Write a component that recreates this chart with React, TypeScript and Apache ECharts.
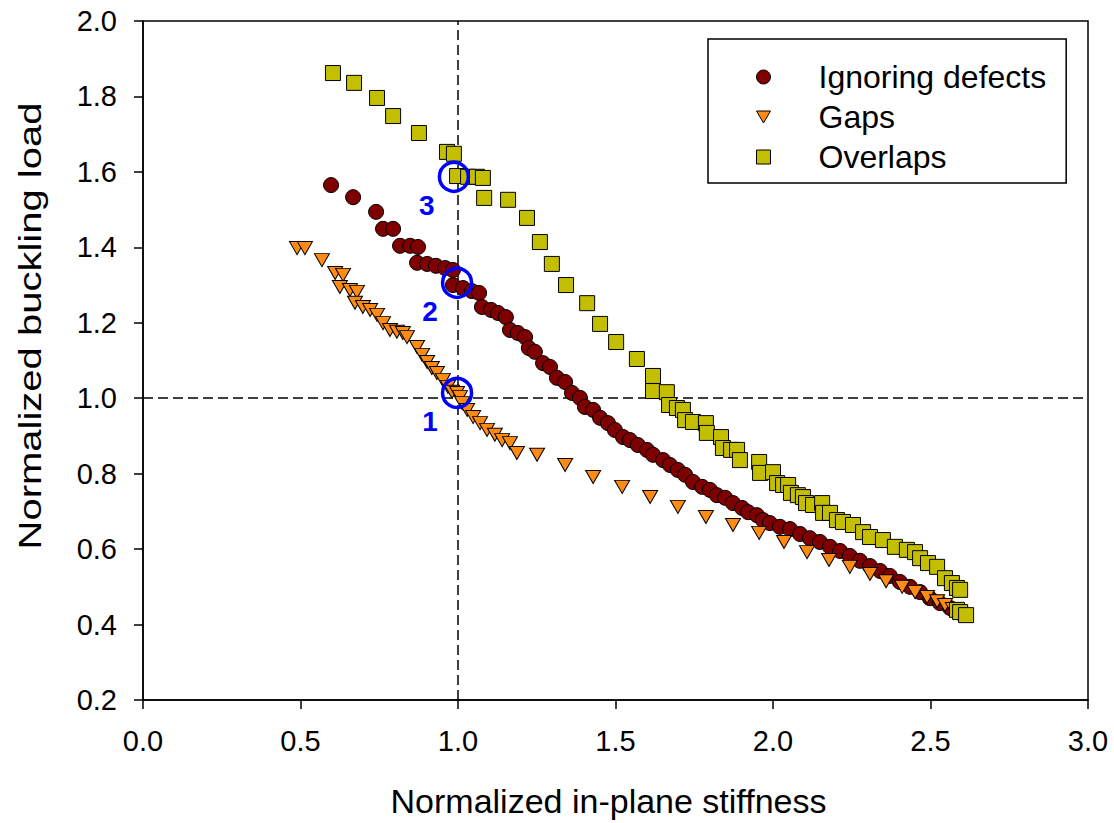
import React, { useEffect, useRef } from "react";
import * as echarts from "echarts";

const seriesNames = ["Ignoring defects", "Gaps", "Overlaps"];
const xTitle = "Normalized in-plane stiffness";
const yTitle = "Normalized buckling load";

const ignoringDefects: number[][] = [
  [0.597, 1.565], [0.667, 1.533], [0.740, 1.494], [0.762, 1.449], [0.794, 1.449],
  [0.816, 1.404], [0.848, 1.404], [0.873, 1.401], [0.870, 1.359], [0.902, 1.356],
  [0.930, 1.351], [0.959, 1.345], [0.984, 1.340], [0.984, 1.300], [1.016, 1.292],
  [1.044, 1.284], [1.067, 1.279], [1.076, 1.242], [1.105, 1.234], [1.127, 1.226],
  [1.152, 1.215], [1.165, 1.181], [1.190, 1.173], [1.213, 1.162], [1.225, 1.133],
  [1.244, 1.123], [1.270, 1.093], [1.292, 1.083], [1.314, 1.054], [1.340, 1.043],
  [1.362, 1.014], [1.387, 1.001], [1.403, 0.977], [1.429, 0.969], [1.451, 0.948],
  [1.476, 0.934], [1.498, 0.916], [1.524, 0.897], [1.546, 0.889], [1.571, 0.876],
  [1.600, 0.863], [1.619, 0.850], [1.651, 0.836], [1.673, 0.823], [1.698, 0.810],
  [1.721, 0.797], [1.746, 0.778], [1.775, 0.765], [1.800, 0.757], [1.822, 0.743],
  [1.848, 0.736], [1.873, 0.722], [1.902, 0.709], [1.921, 0.698], [1.949, 0.690],
  [1.968, 0.677], [1.990, 0.669], [2.022, 0.659], [2.054, 0.653], [2.086, 0.640],
  [2.117, 0.629], [2.149, 0.619], [2.181, 0.606], [2.213, 0.595], [2.244, 0.582],
  [2.276, 0.569], [2.308, 0.555], [2.340, 0.542], [2.371, 0.529], [2.403, 0.513],
  [2.435, 0.500], [2.467, 0.486], [2.498, 0.470], [2.530, 0.457], [2.562, 0.444],
  [2.594, 0.431],
];

const gaps: number[][] = [
  [0.489, 1.398], [0.514, 1.398], [0.568, 1.366], [0.610, 1.332], [0.635, 1.327],
  [0.625, 1.295], [0.657, 1.287], [0.679, 1.282], [0.673, 1.253], [0.698, 1.242],
  [0.721, 1.234], [0.743, 1.221], [0.762, 1.199], [0.784, 1.181], [0.806, 1.176],
  [0.825, 1.173], [0.838, 1.162], [0.870, 1.136], [0.886, 1.115], [0.902, 1.096],
  [0.917, 1.080], [0.933, 1.067], [0.952, 1.048], [0.968, 1.030], [0.981, 1.017],
  [0.997, 1.014], [1.006, 1.003], [1.013, 0.987], [1.029, 0.969], [1.048, 0.950],
  [1.070, 0.934], [1.092, 0.916], [1.117, 0.903], [1.140, 0.889], [1.165, 0.881],
  [1.187, 0.855], [1.251, 0.850], [1.340, 0.823], [1.429, 0.791], [1.521, 0.765],
  [1.610, 0.738], [1.698, 0.712], [1.787, 0.685], [1.873, 0.664], [1.956, 0.643],
  [2.035, 0.619], [2.108, 0.592], [2.178, 0.571], [2.244, 0.553], [2.308, 0.534],
  [2.359, 0.515], [2.410, 0.500], [2.451, 0.486], [2.489, 0.473], [2.521, 0.462],
  [2.546, 0.452], [2.571, 0.441],
];

const overlaps: number[][] = [
  [0.603, 1.862], [0.670, 1.836], [0.743, 1.796], [0.794, 1.748], [0.876, 1.703],
  [0.965, 1.653], [0.987, 1.648], [0.997, 1.589], [1.032, 1.587], [1.060, 1.587],
  [1.079, 1.584], [1.083, 1.531], [1.159, 1.526], [1.219, 1.478], [1.260, 1.414],
  [1.298, 1.356], [1.343, 1.300], [1.410, 1.252], [1.451, 1.197], [1.502, 1.149],
  [1.568, 1.104], [1.619, 1.059], [1.619, 1.019], [1.663, 1.016], [1.670, 0.982],
  [1.695, 0.974], [1.714, 0.969], [1.721, 0.942], [1.746, 0.937], [1.787, 0.934],
  [1.790, 0.908], [1.835, 0.897], [1.841, 0.868], [1.867, 0.863], [1.886, 0.863],
  [1.895, 0.836], [1.956, 0.831], [1.959, 0.802], [2.000, 0.804], [2.013, 0.775],
  [2.032, 0.770], [2.048, 0.770], [2.057, 0.749], [2.079, 0.743], [2.095, 0.738],
  [2.105, 0.722], [2.127, 0.717], [2.156, 0.722], [2.159, 0.696], [2.181, 0.696],
  [2.203, 0.677], [2.222, 0.672], [2.254, 0.664], [2.286, 0.645], [2.308, 0.632],
  [2.349, 0.624], [2.387, 0.606], [2.425, 0.598], [2.451, 0.592], [2.467, 0.576],
  [2.492, 0.563], [2.521, 0.553], [2.546, 0.523], [2.568, 0.510], [2.584, 0.497],
  [2.594, 0.492], [2.584, 0.439], [2.594, 0.433], [2.613, 0.425],
];

const highlighted: (number | string)[][] = [
  [0.997, 1.014, "1"],
  [0.997, 1.306, "2"],
  [0.987, 1.587, "3"],
];

const FONT = "'Liberation Sans', Arial, Helvetica, sans-serif";
const COLORS = ["#7F0000", "#FF8A14", "#C4BE00"];
const DOWN_TRIANGLE = "path://M0,0 L14,0 L7,12 Z";

export default function App() {
  const ref = useRef<HTMLDivElement>(null);

  useEffect(() => {
    if (!ref.current) return;
    const chart = echarts.init(ref.current, undefined, { renderer: "svg" });
    const markerBorder = { borderColor: "#000", borderWidth: 1, opacity: 1 };
    chart.setOption({
      animation: false,
      backgroundColor: "#fff",
      textStyle: { fontFamily: FONT },
      grid: {
        left: 143,
        top: 21,
        right: 26,
        bottom: 123,
        show: true,
        borderColor: "#000",
        borderWidth: 1.5,
        backgroundColor: "transparent",
      },
      xAxis: {
        type: "value",
        min: 0,
        max: 3,
        interval: 0.5,
        name: xTitle,
        nameLocation: "middle",
        nameGap: 84,
        nameTextStyle: { fontSize: 34, color: "#000", fontFamily: FONT, padding: [0, 14, 0, 0] },
        axisLine: { show: true, onZero: false, lineStyle: { color: "#000", width: 1.5 } },
        axisTick: { show: true, inside: false, length: 9, lineStyle: { color: "#000", width: 1.5 } },
        axisLabel: {
          fontSize: 29,
          color: "#000",
          margin: 26,
          fontFamily: FONT,
          formatter: (v: number) => v.toFixed(1),
        },
        splitLine: { show: false },
      },
      yAxis: {
        type: "value",
        min: 0.2,
        max: 2.0,
        interval: 0.2,
        axisLine: { show: true, onZero: false, lineStyle: { color: "#000", width: 1.5 } },
        axisTick: { show: true, inside: false, length: 9, lineStyle: { color: "#000", width: 1.5 } },
        axisLabel: {
          fontSize: 29,
          color: "#000",
          margin: 26,
          fontFamily: FONT,
          formatter: (v: number) => v.toFixed(1),
        },
        splitLine: { show: false },
      },
      graphic: [
        {
          type: "text",
          x: 30,
          y: 326,
          rotation: Math.PI / 2,
          scaleX: 1.25,
          scaleY: 1,
          style: {
            text: yTitle,
            fontSize: 32,
            fontFamily: FONT,
            fill: "#000",
            align: "center",
            verticalAlign: "middle",
          },
        },
      ],
      legend: {
        orient: "vertical",
        left: 708,
        top: 39,
        data: [
          { name: seriesNames[0], icon: "circle" },
          { name: seriesNames[1], icon: DOWN_TRIANGLE },
          { name: seriesNames[2], icon: "rect" },
        ],
        itemWidth: 14,
        itemHeight: 14,
        itemGap: 8,
        padding: [22, 20, 10, 48],
        borderColor: "#000",
        borderWidth: 1.5,
        backgroundColor: "#fff",
        itemStyle: { borderColor: "#000", borderWidth: 1, opacity: 1 },
        textStyle: { fontSize: 32, color: "#000", fontFamily: FONT, padding: [0, 0, 0, 43] },
      },
      series: [
        {
          name: seriesNames[0],
          type: "scatter",
          data: ignoringDefects,
          symbol: "circle",
          symbolSize: 15,
          itemStyle: { color: COLORS[0], ...markerBorder },
          z: 2,
          markLine: {
            silent: true,
            symbol: "none",
            z: 1,
            label: { show: false },
            lineStyle: { color: "#000", type: [10, 5], width: 1.5, opacity: 1 },
            emphasis: { disabled: true },
            data: [{ xAxis: 1 }, { yAxis: 1 }],
          },
        },
        {
          name: seriesNames[1],
          type: "scatter",
          data: gaps,
          symbol: "triangle",
          symbolRotate: 180,
          symbolSize: [15, 13],
          itemStyle: { color: COLORS[1], ...markerBorder },
          z: 3,
        },
        {
          name: seriesNames[2],
          type: "scatter",
          data: overlaps,
          symbol: "rect",
          symbolSize: 15,
          itemStyle: { color: COLORS[2], ...markerBorder },
          z: 4,
        },
        {
          name: "highlight",
          type: "scatter",
          data: highlighted,
          symbol: "circle",
          symbolSize: 29,
          z: 6,
          itemStyle: { color: "rgba(0,0,0,0)", borderColor: "#0000FF", borderWidth: 3.5, opacity: 1 },
          label: {
            show: true,
            position: "inside",
            offset: [-27, 29],
            formatter: (p: any) => String(p.value[2]),
            fontSize: 28,
            fontWeight: "bold",
            color: "#0000FF",
            opacity: 1,
            fontFamily: FONT,
          },
        },
      ],
    });
    return () => chart.dispose();
  }, []);

  return (
    <div
      ref={ref}
      style={{ position: "fixed", left: 0, top: 0, width: 1114, height: 823, background: "#fff" }}
    />
  );
}
